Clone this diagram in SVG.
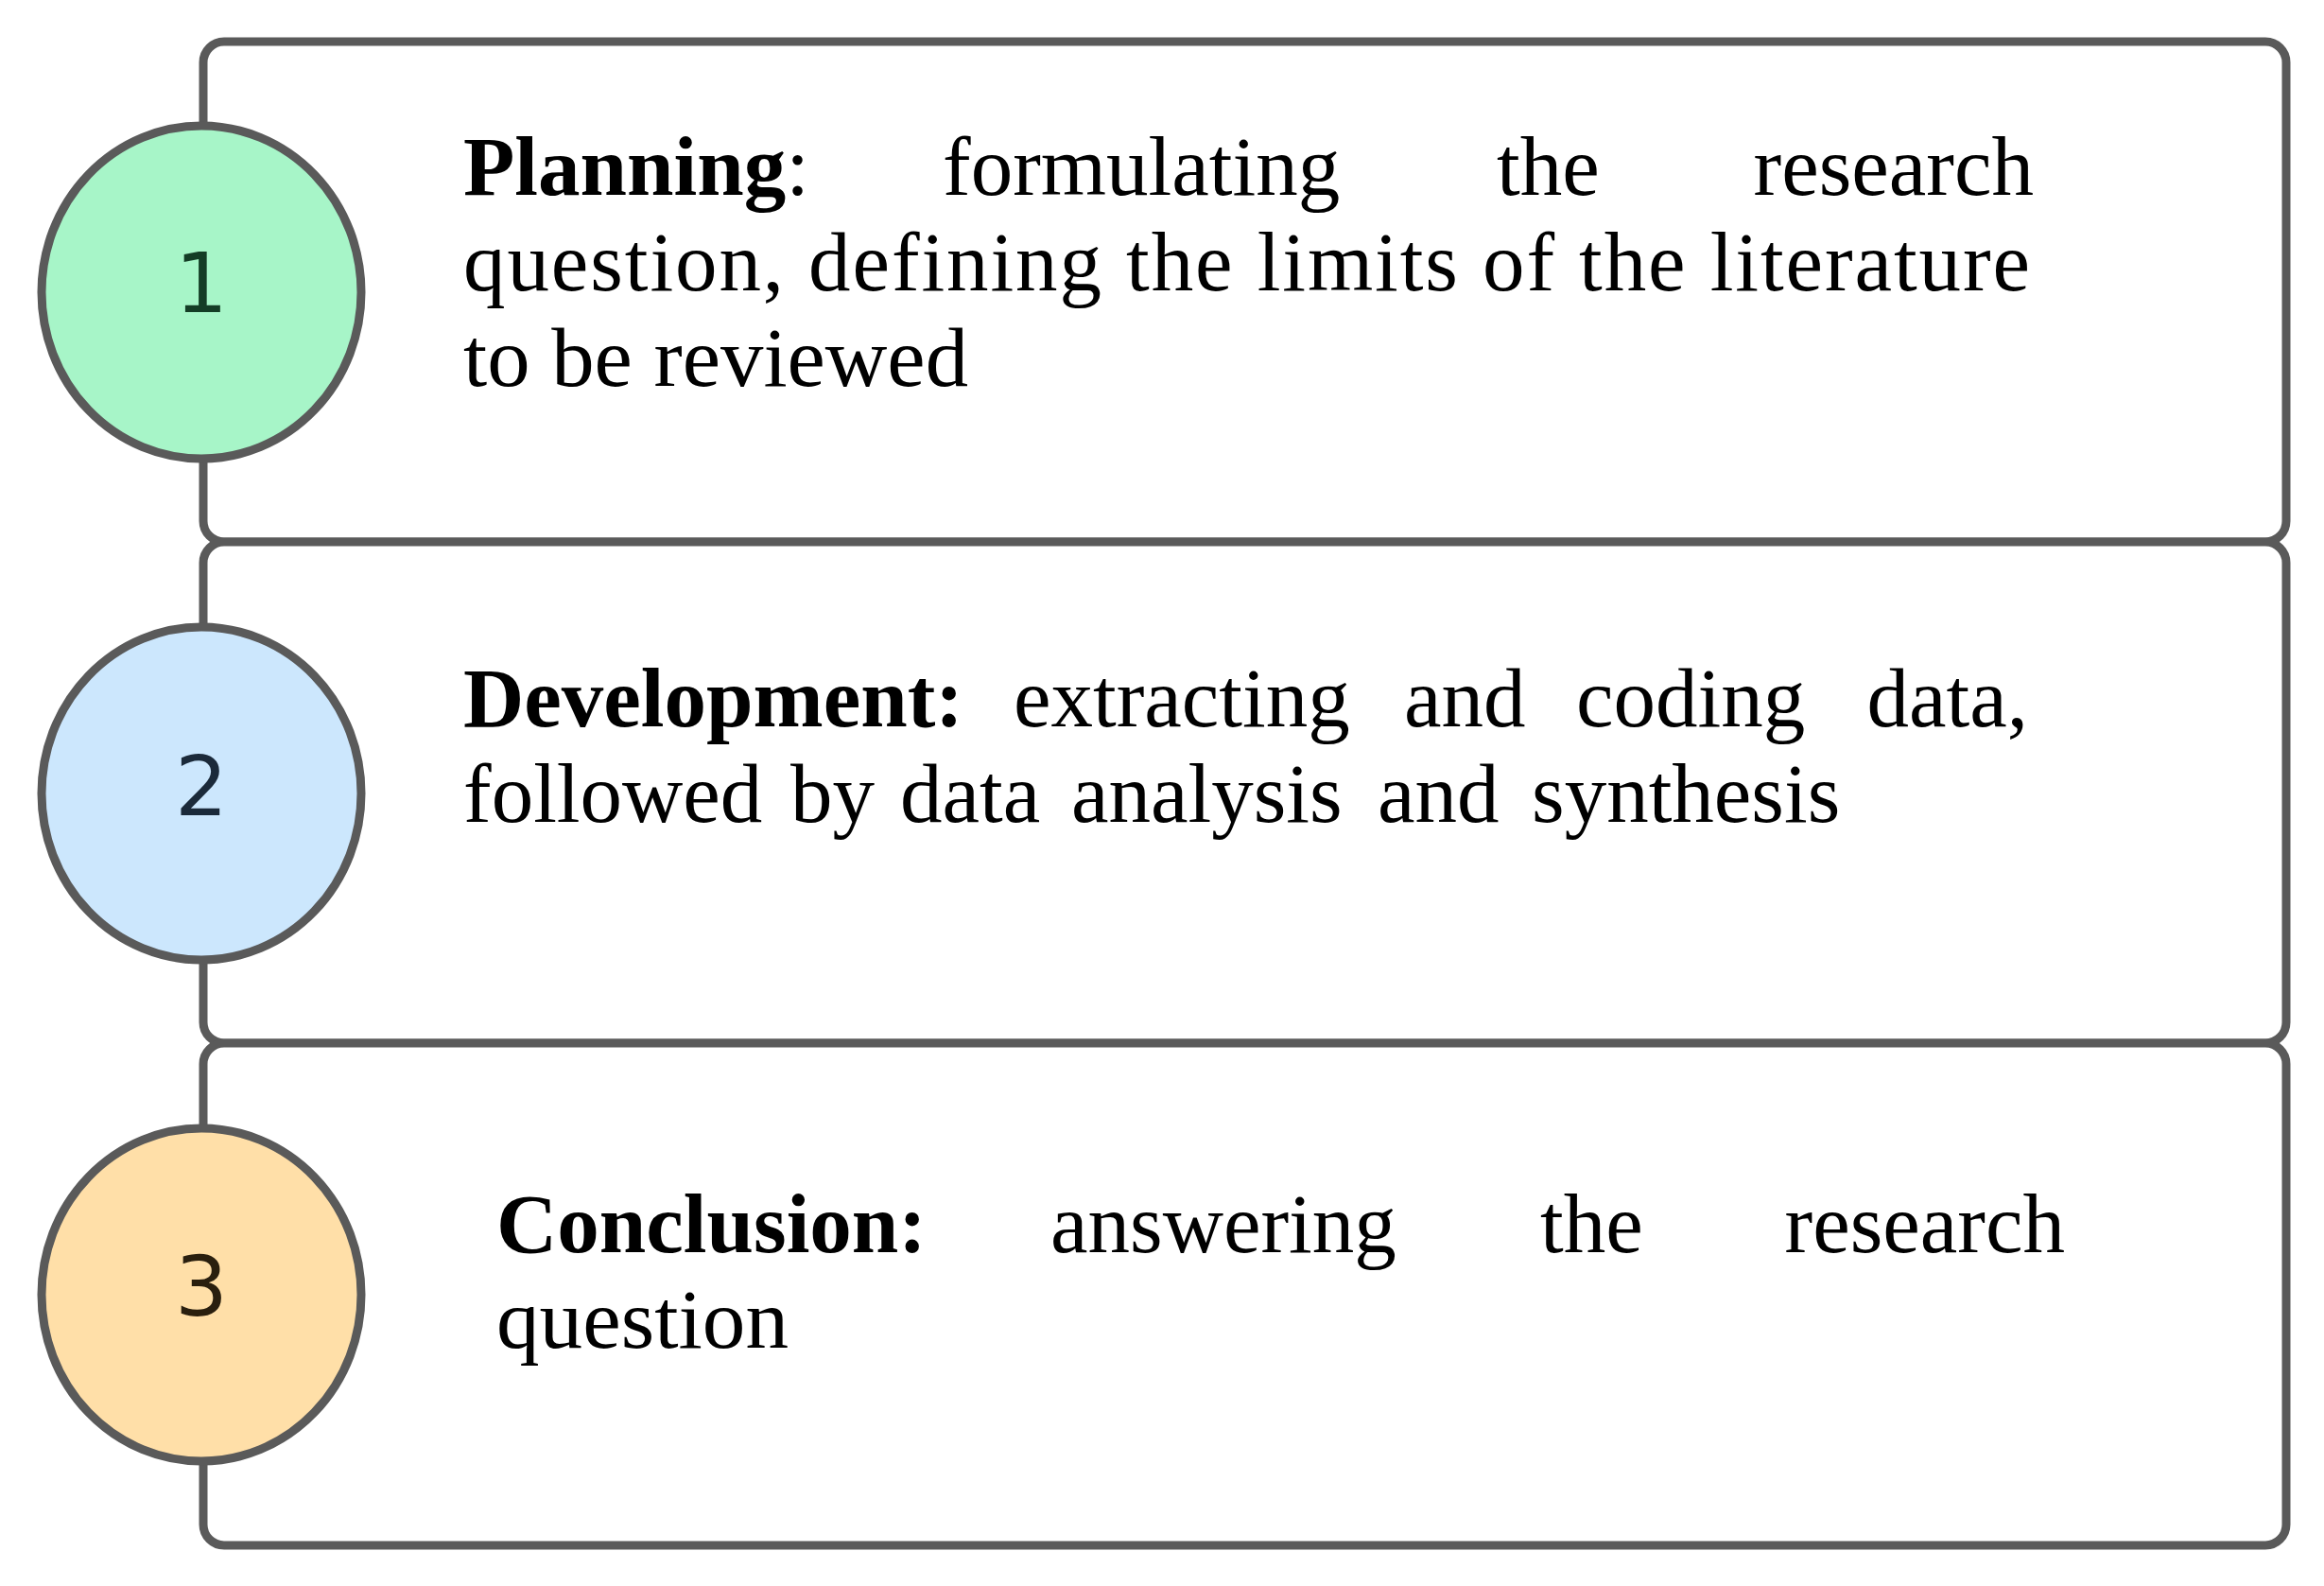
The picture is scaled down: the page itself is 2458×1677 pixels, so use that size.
<svg xmlns="http://www.w3.org/2000/svg" width="2458" height="1677" viewBox="0 0 2458 1677">
<style>
.box{fill:#ffffff;stroke:#5a5a5a;stroke-width:9}
.step{stroke:#5a5a5a;stroke-width:9}
.num{font-family:"DejaVu Sans","Liberation Sans",sans-serif;font-size:88px;text-anchor:middle}
.txt{font-family:"Liberation Serif","DejaVu Serif",serif;font-size:89px;fill:#000000}
.b{font-weight:bold}
</style>
<rect width="2458" height="1677" fill="#ffffff"/>
<g id="connectors">
<rect class="box" x="215" y="44" width="2203" height="529" rx="22"/>
<rect class="box" x="215" y="573" width="2203" height="530" rx="22"/>
<rect class="box" x="215" y="1103" width="2203" height="531" rx="22"/>
</g>
<g id="node1">
<ellipse class="step" cx="213" cy="309" rx="169" ry="176" fill="#a7f5c8"/>
<text class="num" x="213" y="330" fill="#143d26">1</text>
<text class="txt" y="206"><tspan x="490" class="b">Planning</tspan><tspan>:</tspan><tspan x="997">formulating</tspan><tspan x="1583">the</tspan></text>
<text class="txt" x="2151" y="206" text-anchor="end">research</text>
<text class="txt" x="490" y="307" textLength="1657" lengthAdjust="spacing">question, defining the limits of the literature</text>
<text class="txt" x="490" y="408" textLength="534" lengthAdjust="spacingAndGlyphs">to be reviewed</text>
</g>
<g id="node2">
<ellipse class="step" cx="213" cy="839" rx="169" ry="176" fill="#cce7fd"/>
<text class="num" x="213" y="862" fill="#1b2a3a">2</text>
<text class="txt" y="768"><tspan x="490" class="b">Development:</tspan><tspan x="1072">extracting</tspan><tspan x="1485">and</tspan><tspan x="1667">coding</tspan></text>
<text class="txt" x="2145" y="768" text-anchor="end">data,</text>
<text class="txt" y="869"><tspan x="490">followed</tspan><tspan x="836">by</tspan><tspan x="952">data</tspan><tspan x="1133">analysis</tspan><tspan x="1457">and</tspan><tspan x="1620">synthesis</tspan></text>
</g>
<g id="node3">
<ellipse class="step" cx="213" cy="1369" rx="169" ry="176" fill="#ffdfa8"/>
<text class="num" x="213" y="1391" fill="#2a1f0e">3</text>
<text class="txt" y="1324"><tspan x="525" class="b">Conclusion:</tspan><tspan x="1111">answering</tspan><tspan x="1629">the</tspan></text>
<text class="txt" x="2184" y="1324" text-anchor="end">research</text>
<text class="txt" x="525" y="1425" textLength="309" lengthAdjust="spacingAndGlyphs">question</text>
</g>
</svg>
